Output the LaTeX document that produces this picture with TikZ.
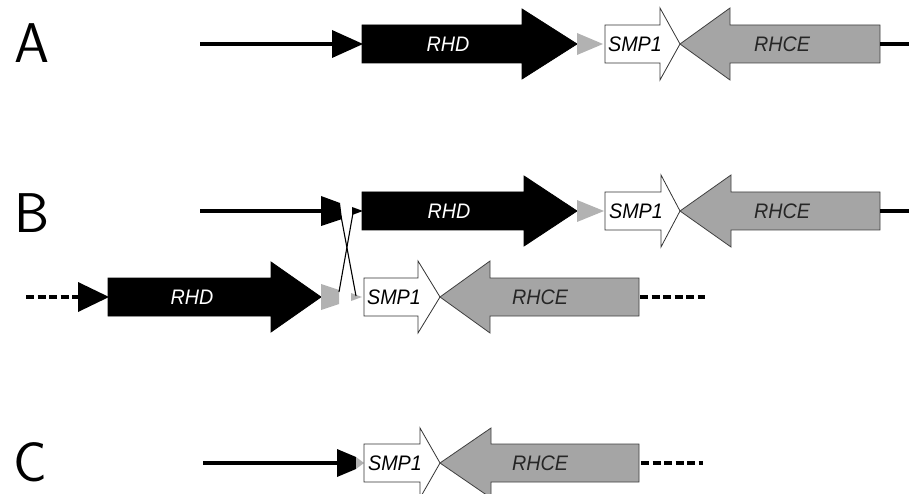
\documentclass[tikz,border=0pt]{standalone}
\usepackage{fontspec}
\setmainfont{Liberation Sans}
\setsansfont{Latin Modern Sans}
\newfontfamily\genefont[FakeStretch=0.94]{Liberation Sans}
\definecolor{rhcegray}{RGB}{165,165,165}
\definecolor{tipgray}{RGB}{178,178,178}
\newcommand{\genearrow}[7]{% style, x0, x1, x2, yc, bh, hh
  \path[#1] (#2,#5-#6) -- (#3,#5-#6) -- (#3,#5-#7) -- (#4,#5) -- (#3,#5+#7) -- (#3,#5+#6) -- (#2,#5+#6) -- cycle;}
\begin{document}
\begin{tikzpicture}[x=1pt,y=-1pt,
  dnaline/.style={line width=3.5pt},
  dnadash/.style={line width=3.8pt,dash pattern=on 8pt off 3.5pt},
  rhdshape/.style={fill=black,draw=black,line width=0.8pt},
  smpshape/.style={fill=white,draw=black!80,line width=0.8pt,line join=miter},
  rhceshape/.style={fill=rhcegray,draw=black!75,line width=0.8pt},
  blacktri/.style={fill=black},
  graytri/.style={fill=tipgray},
  genelabel/.style={font=\genefont\fontsize{21}{21}\selectfont\itshape,inner sep=0pt},
  rowletter/.style={font=\sffamily\fontsize{56}{56}\selectfont,inner sep=0pt},
  crossline/.style={line width=1.1pt}]
\useasboundingbox (0,0) rectangle (909,494);

% ---------- Row A ----------
\node[rowletter] (lA) at (32,43) {A};
\coordinate (a0) at (200,44);
\coordinate (a1) at (333,44);
\draw[dnaline] (a0) -- (a1);
\path[blacktri] (332,30) -- (363,44) -- (332,58) -- cycle;
\genearrow{rhdshape}{362}{522}{577}{44}{19}{35}
\path[graytri] (577,33) -- (603,44) -- (577,55) -- cycle;
\genearrow{rhceshape}{880}{730}{680}{44}{19}{36}
\genearrow{smpshape}{605}{660}{680}{44}{19}{36}
\coordinate (a2) at (880,44);
\coordinate (a3) at (909,44);
\draw[dnaline] (a2) -- (a3);
\node[genelabel,text=white] (rhdA) at (448,44) {RHD};
\node[genelabel] (smpA) at (635,44) {SMP1};
\node[genelabel,text=black!85] (rhceA) at (782,44) {RHCE};

% ---------- Row B top ----------
\node[rowletter] (lB) at (32,213) {B};
\coordinate (b0) at (200,211);
\coordinate (b1) at (322,211);
\draw[dnaline] (b0) -- (b1);
\path[blacktri] (321,196) -- (340,203) -- (342,219) -- (321,226) -- cycle;
\path[blacktri] (352,207) -- (363,211) -- (352,215) -- cycle;
\genearrow{rhdshape}{362}{524}{577}{211}{19}{35}
\path[graytri] (577,200) -- (604,211) -- (577,222) -- cycle;
\genearrow{rhceshape}{880}{731}{680}{211}{19}{36}
\genearrow{smpshape}{605}{661}{680}{211}{19}{36}
\coordinate (b2) at (880,211);
\coordinate (b3) at (909,211);
\draw[dnaline] (b2) -- (b3);
\node[genelabel,text=white] (rhdB) at (449,211) {RHD};
\node[genelabel] (smpB) at (636,211) {SMP1};
\node[genelabel,text=black!85] (rhceB) at (782,211) {RHCE};

% ---------- Row B bottom ----------
\coordinate (c0) at (26,297);
\coordinate (c1) at (79,297);
\draw[dnadash] (c0) -- (c1);
\path[blacktri] (78,282) -- (109,297) -- (78,312) -- cycle;
\genearrow{rhdshape}{108}{271}{321}{297}{19}{35}
\path[graytri] (321,284) -- (339,290) -- (339,304) -- (321,310) -- cycle;
\path[graytri] (351,293) -- (362,297) -- (351,301) -- cycle;
\genearrow{rhceshape}{639}{490}{440}{297}{19}{36}
\genearrow{smpshape}{364}{418}{440}{297}{19}{36}
\coordinate (c2) at (640,297);
\coordinate (c3) at (705,297);
\draw[dnadash] (c2) -- (c3);
\node[genelabel,text=white] (rhdC) at (192,297) {RHD};
\node[genelabel] (smpC) at (394,297) {SMP1};
\node[genelabel,text=black!85] (rhceC) at (540,297) {RHCE};

% ---------- crossover ----------
\coordinate (x1) at (341,216);
\coordinate (x2) at (356,296);
\coordinate (x3) at (353,213);
\coordinate (x4) at (339,292);
\draw[crossline] (x1) -- (x2);
\draw[crossline] (x3) -- (x4);

% ---------- Row C ----------
\node[rowletter] (lC) at (30,462) {C};
\coordinate (d0) at (203,463);
\coordinate (d1) at (338,463);
\draw[dnaline] (d0) -- (d1);
\path[blacktri] (337,449) -- (356,457) -- (356,469) -- (337,477) -- cycle;
\path[graytri] (356,457) -- (364,463) -- (356,469) -- cycle;
\genearrow{rhceshape}{639}{491}{440}{463}{19}{35}
\genearrow{smpshape}{364}{420}{440}{463}{19}{35}
\coordinate (d2) at (641,463);
\coordinate (d3) at (703,463);
\draw[dnadash] (d2) -- (d3);
\node[genelabel] (smpD) at (395,463) {SMP1};
\node[genelabel,text=black!85] (rhceD) at (540,463) {RHCE};
\end{tikzpicture}
\end{document}
